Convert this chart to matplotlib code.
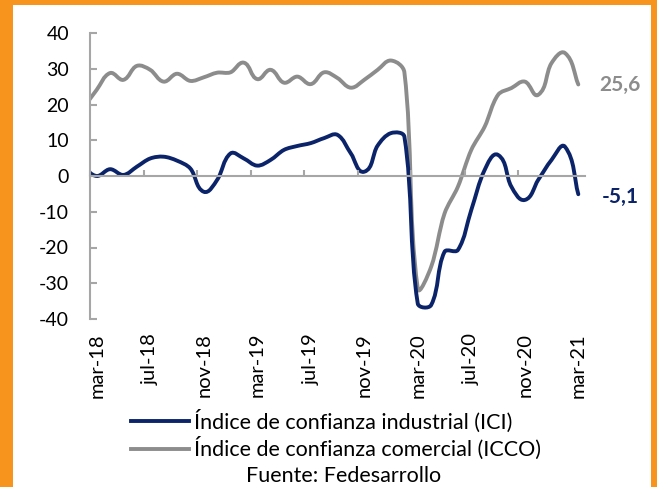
import numpy as np
import matplotlib
matplotlib.use("Agg")
import matplotlib.pyplot as plt
from matplotlib.path import Path
from matplotlib.patches import PathPatch, Rectangle
from matplotlib.lines import Line2D

plt.rcParams['font.family'] = ['Lato', 'DejaVu Sans']
plt.rcParams['axes.unicode_minus'] = False

# monthly data, feb-18 .. mar-21 (feb-18 only partly visible at the left edge)
months = ['feb-18', 'mar-18', 'abr-18', 'may-18', 'jun-18', 'jul-18', 'ago-18', 'sep-18',
          'oct-18', 'nov-18', 'dic-18', 'ene-19', 'feb-19', 'mar-19', 'abr-19', 'may-19',
          'jun-19', 'jul-19', 'ago-19', 'sep-19', 'oct-19', 'nov-19', 'dic-19', 'ene-20',
          'feb-20', 'mar-20', 'abr-20', 'may-20', 'jun-20', 'jul-20', 'ago-20', 'sep-20',
          'oct-20', 'nov-20', 'dic-20', 'ene-21', 'feb-21', 'mar-21']
ici = [2.5, 0.0, 1.9, 0.3, 2.6, 4.9, 5.4, 4.3, 2.1, -4.4, -1.1, 6.3, 4.9, 2.9, 4.5, 7.3,
       8.4, 9.2, 10.6, 11.5, 6.3, 1.2, 8.5, 12.0, 11.0, -35.7, -36.1, -21.2, -20.7, -9.5,
       1.7, 5.9, -3.0, -6.7, -1.1, 4.5, 8.2, -5.1]
icco = [19.0, 24.1, 28.8, 26.9, 30.8, 29.7, 26.4, 28.6, 26.6, 27.6, 28.9, 29.0, 31.7, 27.1,
        29.7, 26.1, 27.8, 25.7, 29.0, 27.4, 24.7, 26.9, 29.7, 32.3, 29.0, -31.5, -25.4,
        -10.5, -3.0, 7.3, 13.8, 22.7, 24.6, 26.4, 22.7, 31.6, 34.4, 25.6]
tick_labels = ['mar-18', 'jul-18', 'nov-18', 'mar-19', 'jul-19', 'nov-19',
               'mar-20', 'jul-20', 'nov-20', 'mar-21']

NAVY = '#0b2469'
GRAY = '#8c8c8c'
AXIS = '#a6a6a6'


def smooth_path(x, y, ky=0.266):
    # excel-like smoothed line: bezier with chord-length scaled tangents
    n = len(x)
    X = np.asarray(x, float)
    Y = np.asarray(y, float) * ky
    tang = []
    for i in range(n):
        a, b = max(i - 1, 0), min(i + 1, n - 1)
        d = np.array([X[b] - X[a], Y[b] - Y[a]])
        tang.append(d / np.hypot(*d))
    verts = [(x[0], y[0])]
    codes = [Path.MOVETO]
    for i in range(n - 1):
        L = np.hypot(X[i + 1] - X[i], Y[i + 1] - Y[i]) / 3
        c1 = np.array([X[i], Y[i]]) + tang[i] * L
        c2 = np.array([X[i + 1], Y[i + 1]]) - tang[i + 1] * L
        verts += [(c1[0], c1[1] / ky), (c2[0], c2[1] / ky), (x[i + 1], y[i + 1])]
        codes += [Path.CURVE4] * 3
    return Path(verts, codes)


fig = plt.figure(figsize=(6.57, 4.87), dpi=100)
fig.patch.set_facecolor('#f7941d')
fig.patches.append(Rectangle((13 / 657, 0), 638 / 657, 482 / 487,
                             transform=fig.transFigure, facecolor='white',
                             edgecolor='none', zorder=-1))

ax = fig.add_axes([90 / 657, 1 - 319 / 487, 495 / 657, 286 / 487])
ax.set_facecolor('none')

pos = np.arange(len(months)) - 0.5
for vals, col in [(icco, GRAY), (ici, NAVY)]:
    ax.add_patch(PathPatch(smooth_path(pos, vals), fill=False, edgecolor=col,
                           lw=2.8, capstyle='round', joinstyle='round'))

ax.set_xlim(0, 37)
ax.set_ylim(-40, 40)

for s in ['top', 'right']:
    ax.spines[s].set_visible(False)
ax.spines['left'].set_color(AXIS)
ax.spines['left'].set_linewidth(1.5)
ax.spines['bottom'].set_color(AXIS)
ax.spines['bottom'].set_linewidth(1.5)
ax.spines['bottom'].set_position(('data', 0))

ax.set_yticks(np.arange(-40, 41, 10))
ax.tick_params(axis='y', direction='in', length=5, width=1.5, color=AXIS,
               labelsize=14, pad=15)
ax.set_xticks(np.arange(0, 33, 4))
ax.tick_params(axis='x', direction='in', length=4.5, width=1.5, color=AXIS,
               labelbottom=False)

sec = ax.secondary_xaxis('bottom')
sec.set_xticks(np.arange(0, 37, 4) + 0.5, tick_labels)
sec.tick_params(length=0, labelsize=14.5, pad=10, labelrotation=90)
sec.spines['bottom'].set_visible(False)

ax.annotate('25,6', xy=(pos[-1], icco[-1]), xytext=(15, 0), textcoords='offset points',
            ha='left', va='center', fontsize=15, fontweight='bold', color=GRAY)
ax.annotate('-5,1', xy=(pos[-1], ici[-1]), xytext=(17, -2), textcoords='offset points',
            ha='left', va='center', fontsize=15, fontweight='bold', color=NAVY)

handles = [Line2D([], [], color=NAVY, lw=2.8),
           Line2D([], [], color=GRAY, lw=2.8)]
fig.legend(handles, ['Índice de confianza industrial (ICI)',
                     'Índice de confianza comercial (ICCO)'],
           loc='center', bbox_to_anchor=(336 / 657, 1 - 435 / 487), frameon=False,
           fontsize=15.5, handlelength=2.7, handletextpad=0.25, labelspacing=0.2)
fig.text(344 / 657, 1 - 476 / 487, 'Fuente: Fedesarrollo', ha='center', va='center',
         fontsize=15.5)

fig.savefig('out.png', dpi=100)
